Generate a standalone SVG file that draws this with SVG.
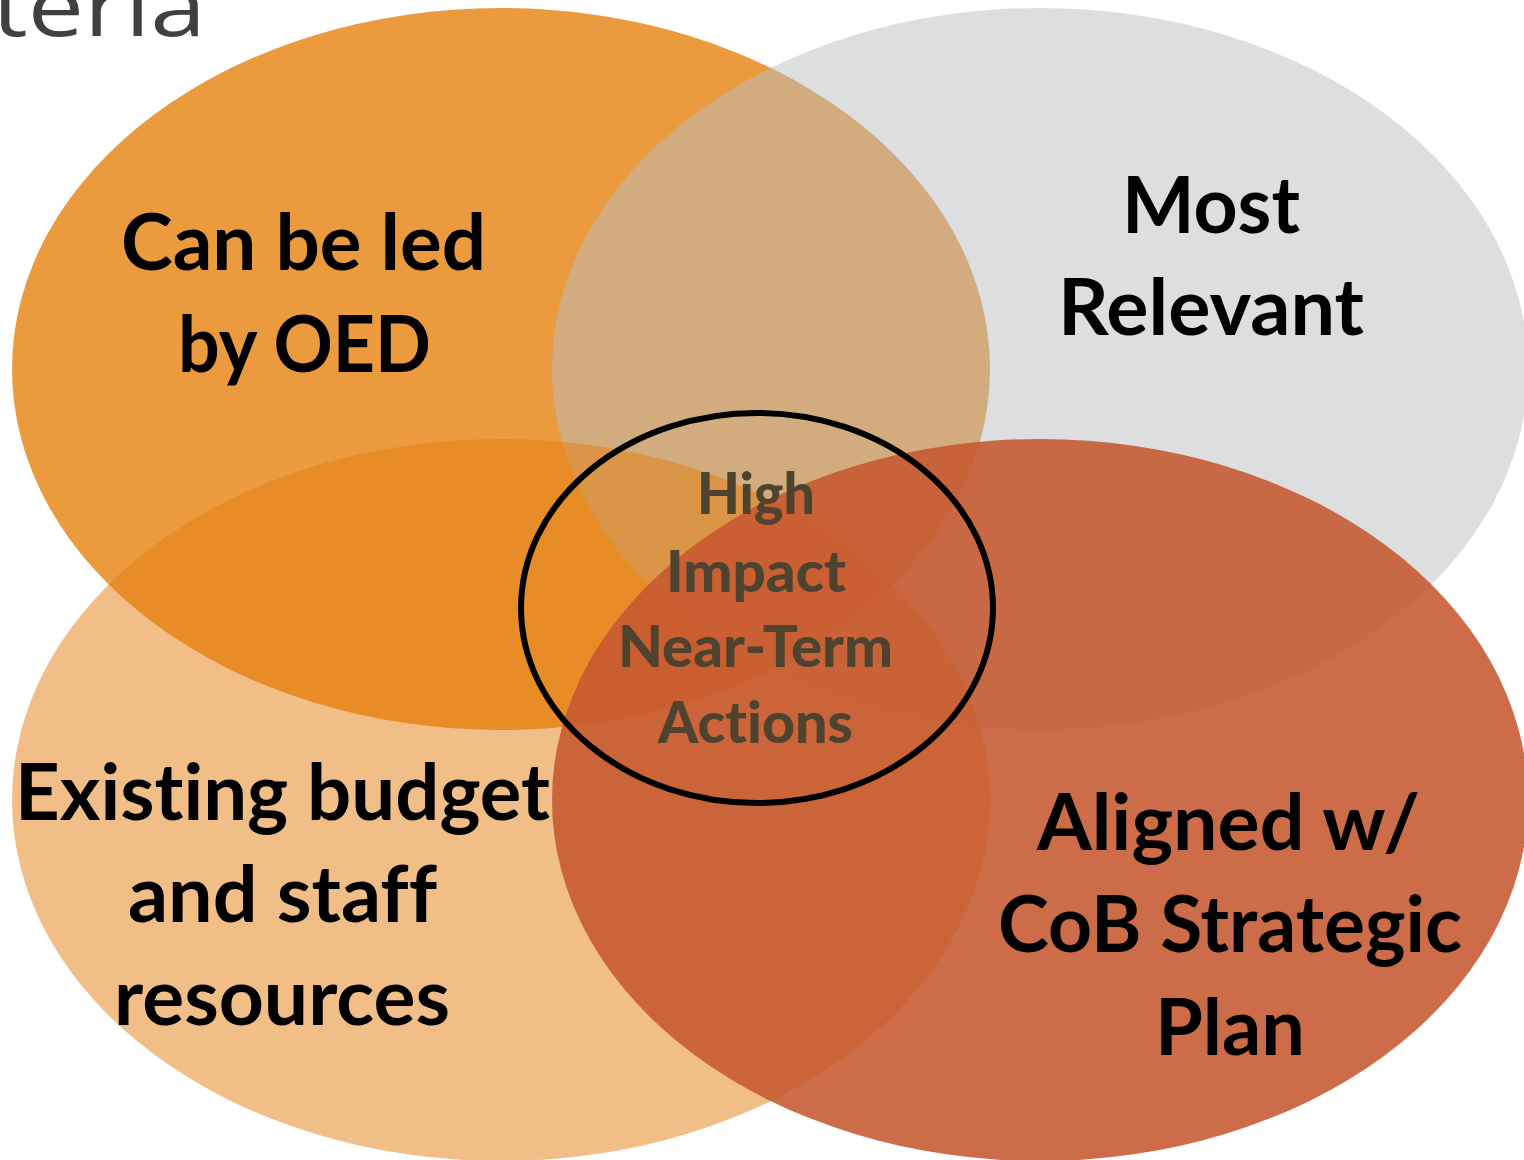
<svg xmlns="http://www.w3.org/2000/svg" width="1524" height="1160" viewBox="0 0 1524 1160">
<style>
.lbl{font-family:Lato,"Open Sans","Liberation Sans",sans-serif;font-weight:bold;font-size:78px;fill:#000;text-anchor:middle;font-variant-ligatures:none}
.ctr{font-family:Lato,"Open Sans","Liberation Sans",sans-serif;font-weight:900;font-size:57px;fill:#4E432F;text-anchor:middle;font-variant-ligatures:none}
.ttl{font-family:"Open Sans","Noto Sans","Liberation Sans",sans-serif;font-weight:normal;font-size:82px;fill:#404040}
</style>
<rect width="1524" height="1160" fill="#ffffff"/>
<text class="ttl" x="206" y="36" text-anchor="end" textLength="214" lengthAdjust="spacingAndGlyphs">teria</text>
<g id="node-led-by-oed">
<ellipse cx="501" cy="369" rx="489" ry="361" fill="rgb(230,129,14)" fill-opacity="0.8"/>
</g>
<g id="node-most-relevant">
<ellipse cx="1040" cy="369" rx="488" ry="361" fill="rgb(185,189,191)" fill-opacity="0.5"/>
</g>
<g id="node-budget">
<ellipse cx="501" cy="800" rx="489" ry="361" fill="rgb(227,126,15)" fill-opacity="0.5"/>
</g>
<g id="node-aligned">
<ellipse cx="1040" cy="800" rx="488" ry="361" fill="rgb(198,88,48)" fill-opacity="0.88"/>
</g>
<g id="labels">
<text class="lbl" x="303.5" y="270" textLength="365" lengthAdjust="spacingAndGlyphs">Can be led</text>
<text class="lbl" x="304.5" y="372" textLength="253" lengthAdjust="spacingAndGlyphs">by OED</text>
<text class="lbl" x="1211" y="233" textLength="178" lengthAdjust="spacingAndGlyphs">Most</text>
<text class="lbl" x="1211" y="335" textLength="306" lengthAdjust="spacingAndGlyphs">Relevant</text>
<text class="lbl" x="282.5" y="820" textLength="535" lengthAdjust="spacingAndGlyphs">Existing budget</text>
<text class="lbl" x="282.5" y="922" textLength="309" lengthAdjust="spacingAndGlyphs">and staff</text>
<text class="lbl" x="282" y="1025" textLength="336" lengthAdjust="spacingAndGlyphs">resources</text>
<text class="lbl" x="1228.5" y="850" textLength="383" lengthAdjust="spacingAndGlyphs">Aligned w/</text>
<text class="lbl" x="1230" y="952" textLength="464" lengthAdjust="spacingAndGlyphs">CoB Strategic</text>
<text class="lbl" x="1230" y="1055" textLength="150" lengthAdjust="spacingAndGlyphs">Plan</text>
</g>
<g id="node-center">
<ellipse cx="757" cy="608" rx="236" ry="195" fill="none" stroke="#000" stroke-width="6"/>
<text class="ctr" x="756" y="514" textLength="118" lengthAdjust="spacingAndGlyphs">High</text>
<text class="ctr" x="756" y="592" textLength="180" lengthAdjust="spacingAndGlyphs">Impact</text>
<text class="ctr" x="755.5" y="667" textLength="275" lengthAdjust="spacingAndGlyphs">Near-Term</text>
<text class="ctr" x="755.5" y="743" textLength="195" lengthAdjust="spacingAndGlyphs">Actions</text>
</g>
<g id="connectors"></g>
</svg>
